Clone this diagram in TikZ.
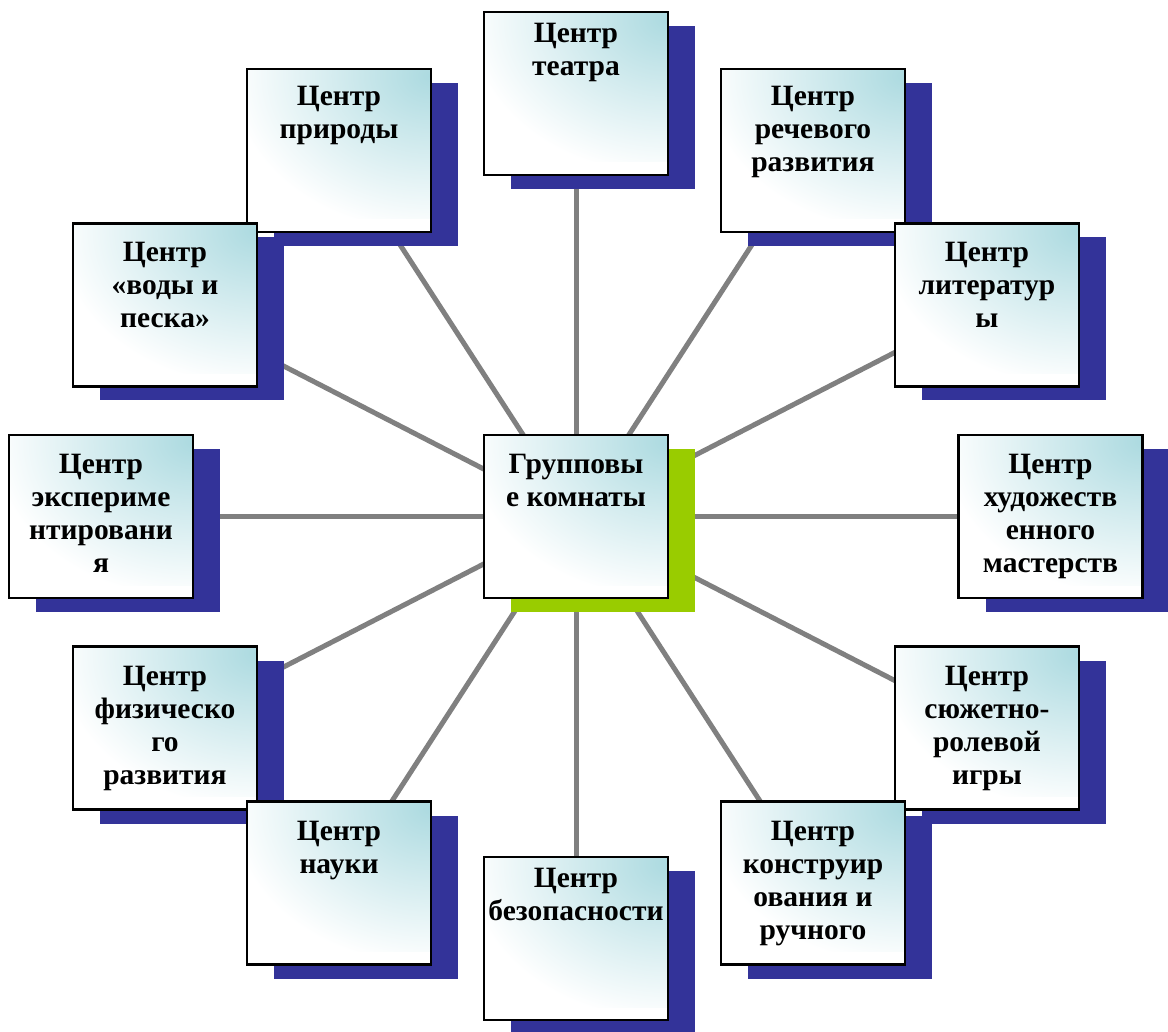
\documentclass[tikz,border=0pt]{standalone}
\usepackage{fontspec}
\setmainfont{Liberation Serif}
\definecolor{shblue}{RGB}{51,51,153}
\definecolor{shgreen}{RGB}{153,204,0}
\definecolor{tealc}{RGB}{172,218,224}
\definecolor{linegray}{RGB}{128,128,128}
\pgfdeclarelayer{paper}
\pgfdeclarelayer{links}
\pgfdeclarelayer{shadows}
\pgfsetlayers{paper,links,shadows,main}
\newcommand{\boxtext}[2][19pt]{\parbox[c][163pt][t]{184pt}{\centering\vspace*{#1}#2\par}}
\newcommand{\dropshadow}[2]{\fill[#2] ([shift={(27,14)}]#1.south west) rectangle ([shift={(27,14)}]#1.north east);}
\tikzset{
  box/.style={draw=black, line width=2.5pt, minimum width=184pt, minimum height=163pt,
    inner sep=0pt, outer sep=0pt, fill=white,
    path picture={\shade[inner color=tealc, outer color=white]
      ([xshift=-200pt,yshift=-150pt]path picture bounding box.north east) rectangle
      ([xshift=200pt,yshift=150pt]path picture bounding box.north east);},
    font=\fontsize{29.5}{33}\selectfont\bfseries},
  link/.style={draw=linegray, line width=5pt}
}
\begin{document}
\begin{tikzpicture}[x=1pt,y=-1pt]
\useasboundingbox (0,0) rectangle (1168,1032);
\begin{pgfonlayer}{paper}
\fill[white] (0,0) rectangle (1168,1032);
\end{pgfonlayer}
\node[box] (teatr) at (576,93.5) {\boxtext[11pt]{Центр\\театра}};
\node[box] (prir) at (339,150.5) {\boxtext[17pt]{Центр\\природы}};
\node[box] (rech) at (813,150.5) {\boxtext[17.5pt]{Центр\\речевого\\развития}};
\node[box] (voda) at (165,305) {\boxtext{Центр\\«воды и\\песка»}};
\node[box] (lit) at (987,305) {\boxtext{Центр\\литератур\\ы}};
\node[box] (eksp) at (101,516.5) {\boxtext{Центр\\экспериме\\нтировани\\я}};
\node[box] (grup) at (576,516.5) {\boxtext{Групповы\\е комнаты}};
\node[box] (hud) at (1050.5,516.5) {\boxtext{Центр\\художеств\\енного\\мастерств}};
\node[box] (fiz) at (165,728) {\boxtext[19.5pt]{Центр\\физическо\\го\\развития}};
\node[box] (syuzh) at (987,728) {\boxtext[19.5pt]{Центр\\сюжетно-\\ролевой\\игры}};
\node[box] (nauka) at (339,883) {\boxtext[19.5pt]{Центр\\науки}};
\node[box] (konstr) at (813,883) {\boxtext[19.5pt]{Центр\\конструир\\ования и\\ручного}};
\node[box] (bez) at (576,938.5) {\boxtext[11.5pt]{Центр\\безопасности}};
\begin{pgfonlayer}{links}
\foreach \n in {teatr,prir,rech,voda,lit,eksp,hud,fiz,syuzh,nauka,konstr,bez}
  {\draw[link] (grup.center) -- (\n.center);}
\end{pgfonlayer}
\begin{pgfonlayer}{shadows}
\foreach \n in {teatr,prir,rech,voda,lit,eksp,hud,fiz,syuzh,nauka,konstr,bez}
  {\dropshadow{\n}{shblue}}
\dropshadow{grup}{shgreen}
\end{pgfonlayer}
\end{tikzpicture}
\end{document}
